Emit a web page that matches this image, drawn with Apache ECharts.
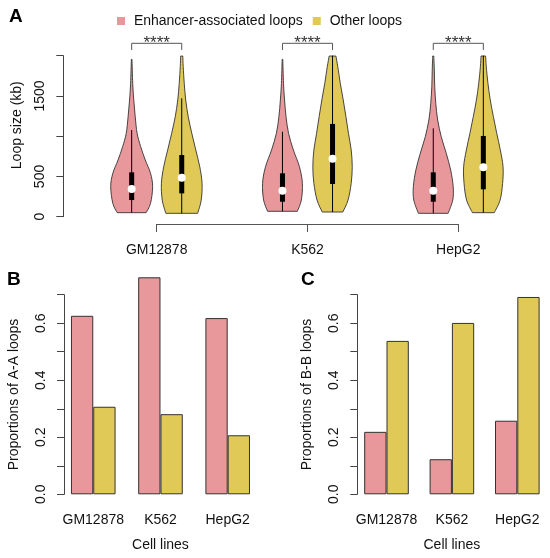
<!DOCTYPE html>
<html>
<head>
<meta charset="utf-8">
<script src="https://cdn.jsdelivr.net/npm/echarts@6/dist/echarts.min.js"></script>
<style>
  html, body { margin: 0; padding: 0; background: #fff; }
  #main { width: 550px; height: 558px; }
</style>
</head>
<body>
<div id="main"></div>
<script>
var cellLines = ['GM12878', 'K562', 'HepG2'];
var groupNames = ['Enhancer-associated loops', 'Other loops'];
var groupColors = ['#E8979A', '#E0C956'];

// violin outlines, one per cell line: [loop size (kb), relative density]
var enhancerViolins = [
    [[50, .69], [166, .90], [373, 1.0], [539, .90], [704, .65], [870, .43], [1036, .26], [1242, .17], [1450, .10], [1657, .05], [1955, .015]],
    [[67, .71], [207, .90], [415, .95], [621, .81], [829, .52], [1036, .29], [1242, .17], [1450, .10], [1657, .05], [1955, .015]],
    [[42, .71], [207, .93], [373, .95], [580, .83], [787, .62], [994, .38], [1201, .21], [1408, .12], [1615, .07], [1822, .05], [1996, .025]]
];
var otherViolins = [
    [[42, .76], [207, .93], [415, .97], [621, .86], [829, .67], [1036, .48], [1242, .31], [1450, .19], [1657, .12], [1864, .07], [1996, .05]],
    [[58, .49], [207, .74], [415, .89], [621, .94], [829, .89], [1036, .76], [1242, .64], [1450, .51], [1657, .37], [1864, .25], [1996, .16]],
    [[50, .52], [207, .80], [415, .92], [621, .94], [829, .81], [1036, .64], [1242, .48], [1450, .33], [1657, .22], [1864, .14], [1996, .11]]
];
// boxes: [whisker low, q1, median, q3, whisker high]
var enhancerBoxes = [[50, 207, 345, 551, 1077], [67, 186, 323, 539, 1056], [42, 186, 323, 551, 1098]];
var otherBoxes = [[42, 290, 485, 766, 1471], [58, 406, 720, 1152, 2000], [50, 340, 614, 1003, 2000]];
var sigLabels = ['****', '****', '****'];
var loopTickLabels = ['0', '500', '', '1500', ''];

// proportions of A-A and B-B loops
var aaEnhancer = [0.626, 0.761, 0.618];
var aaOther = [0.307, 0.281, 0.207];
var bbEnhancer = [0.219, 0.123, 0.258];
var bbOther = [0.538, 0.601, 0.692];

var FONT = '"Liberation Sans", Arial, sans-serif';

// catmull-rom through the points, as bezier segments (the first point is the current position)
function curveThrough(pts) {
    var d = '';
    for (var k = 0; k < pts.length - 1; k++) {
        var p0 = pts[k - 1] || pts[k], p1 = pts[k], p2 = pts[k + 1], p3 = pts[k + 2] || p2;
        var c1 = [p1[0] + (p2[0] - p0[0]) / 6, p1[1] + (p2[1] - p0[1]) / 6];
        var c2 = [p2[0] - (p3[0] - p1[0]) / 6, p2[1] - (p3[1] - p1[1]) / 6];
        d += ' C' + c1.join(' ') + ' ' + c2.join(' ') + ' ' + p2.join(' ');
    }
    return d;
}

function violinRenderer(violins, boxes, side, color) {
    return function (params, api) {
        var i = api.value(0);
        var band = api.size([1, 0])[0];
        var cx = api.coord([i, 0])[0] + side * band * 0.166;
        var hw = band * 0.139;
        var y = function (v) { return api.coord([i, v])[1]; };
        var pts = violins[i];
        var right = pts.map(function (p) { return [cx + p[1] * hw, y(p[0])]; });
        var left = pts.slice().reverse().map(function (p) { return [cx - p[1] * hw, y(p[0])]; });
        var d = 'M' + right[0].join(' ') + curveThrough(right) +
                ' L' + left[0].join(' ') + curveThrough(left) + ' Z';
        var b = boxes[i];
        return {
            type: 'group',
            children: [
                { type: 'path', shape: { pathData: d },
                  style: { fill: color, stroke: '#333', lineWidth: 0.9 } },
                { type: 'line', shape: { x1: cx, y1: y(b[0]), x2: cx, y2: y(b[4]) },
                  style: { stroke: '#000', lineWidth: 1 } },
                { type: 'rect', shape: { x: cx - 2.5, y: y(b[3]), width: 5, height: y(b[1]) - y(b[3]) },
                  style: { fill: '#000' } },
                { type: 'circle', shape: { cx: cx, cy: y(b[2]), r: 4 }, style: { fill: '#fff' } }
            ]
        };
    };
}

function sigRenderer(params, api) {
    var i = api.value(0);
    var band = api.size([1, 0])[0];
    var c = api.coord([i, 0])[0];
    var x1 = c - band * 0.166, x2 = c + band * 0.166;
    var yTop = api.coord([i, 2154])[1], yEnd = api.coord([i, 2071])[1];
    return {
        type: 'group',
        children: [
            { type: 'polyline', shape: { points: [[x1, yEnd], [x1, yTop], [x2, yTop], [x2, yEnd]] },
              style: { stroke: '#555', lineWidth: 1, fill: null } },
            { type: 'text', x: c, y: yTop + 0.5,
              style: { text: sigLabels[i], fill: '#333', font: '17px ' + FONT, align: 'center', verticalAlign: 'middle' } }
        ]
    };
}

var propAxis = function (gridIndex, offset, name) {
    return {
        type: 'value', gridIndex: gridIndex, min: 0, max: 0.7, interval: 0.1, offset: offset,
        axisLine: { show: true, lineStyle: { color: '#444' } },
        axisTick: { show: true, length: 7, lineStyle: { color: '#444' } },
        axisLabel: { rotate: 90, margin: 16, fontSize: 14, color: '#111', fontFamily: FONT,
            formatter: function (v) { return Math.round(v * 10) % 2 === 0 ? v.toFixed(1) : ''; } },
        splitLine: { show: false },
        name: name, nameLocation: 'middle', nameGap: 43,
        nameTextStyle: { fontSize: 14, color: '#111', fontFamily: FONT }
    };
};
var cellAxis = function (gridIndex) {
    return {
        type: 'category', gridIndex: gridIndex, data: cellLines,
        axisLine: { show: false }, axisTick: { show: false },
        axisLabel: { interval: 0, margin: 19, fontSize: 14, color: '#111', fontFamily: FONT },
        name: 'Cell lines', nameLocation: 'middle', nameGap: 44,
        nameTextStyle: { fontSize: 14, color: '#111', fontFamily: FONT }
    };
};
var barSeries = function (axisIndex, values, k) {
    return {
        type: 'bar', name: groupNames[k], xAxisIndex: axisIndex, yAxisIndex: axisIndex,
        data: values, barWidth: 22.3, barGap: '0%', clip: false,
        itemStyle: { color: groupColors[k], borderColor: '#333', borderWidth: 1 }
    };
};

var chart = echarts.init(document.getElementById('main'));
var idx = cellLines.map(function (c, i) { return [i]; });

chart.setOption({
    animation: false,
    textStyle: { fontFamily: FONT },
    legend: {
        data: groupNames, left: 112, top: 9, icon: 'rect', itemWidth: 8, itemHeight: 8, itemGap: 10,
        formatter: function (name) { return ' ' + name; },
        textStyle: { fontSize: 14, color: '#111', fontFamily: FONT }
    },
    graphic: [
        { type: 'text', left: 9, top: 7, style: { text: 'A', font: 'bold 19px ' + FONT, fill: '#000' } },
        { type: 'text', left: 7, top: 270, style: { text: 'B', font: 'bold 19px ' + FONT, fill: '#000' } },
        { type: 'text', left: 301, top: 270, style: { text: 'C', font: 'bold 19px ' + FONT, fill: '#000' } }
    ],
    grid: [
        { left: 81.3, width: 452.4, top: 55.7, height: 161 },
        { left: 156.7, width: 301.6, top: 200, height: 24 },
        { left: 59.65, width: 201.65, top: 294.7, height: 199.6 },
        { left: 353.8, width: 201, top: 294.7, height: 199.6 }
    ],
    xAxis: [
        { type: 'category', gridIndex: 0, data: cellLines, show: false },
        { type: 'category', gridIndex: 1, data: cellLines, boundaryGap: false,
          axisLine: { lineStyle: { color: '#555' } },
          axisTick: { length: 8, lineStyle: { color: '#555' } },
          axisLabel: { interval: 0, margin: 19, fontSize: 14, color: '#111', fontFamily: FONT },
          splitLine: { show: false } },
        cellAxis(2),
        cellAxis(3)
    ],
    yAxis: [
        { type: 'value', gridIndex: 0, min: 0, max: 2000, interval: 500, offset: 18,
          axisLine: { show: true, lineStyle: { color: '#444' } },
          axisTick: { show: true, length: 7, lineStyle: { color: '#444' } },
          axisLabel: { rotate: 90, margin: 16, fontSize: 14, color: '#111', fontFamily: FONT,
              formatter: function (v) { return loopTickLabels[Math.round(v / 500)]; } },
          splitLine: { show: false },
          name: 'Loop size (kb)', nameLocation: 'middle', nameGap: 39,
          nameTextStyle: { fontSize: 14, color: '#111', fontFamily: FONT, padding: [0, 0, 0, 22] } },
        { type: 'value', gridIndex: 1, show: false },
        propAxis(2, -4.35, 'Proportions of A-A loops'),
        propAxis(3, -3.5, 'Proportions of B-B loops')
    ],
    series: [
        { type: 'custom', name: groupNames[0], xAxisIndex: 0, yAxisIndex: 0, data: idx,
          itemStyle: { color: groupColors[0] },
          renderItem: violinRenderer(enhancerViolins, enhancerBoxes, -1, groupColors[0]) },
        { type: 'custom', name: groupNames[1], xAxisIndex: 0, yAxisIndex: 0, data: idx,
          itemStyle: { color: groupColors[1] },
          renderItem: violinRenderer(otherViolins, otherBoxes, 1, groupColors[1]) },
        { type: 'custom', name: 'significance', xAxisIndex: 0, yAxisIndex: 0, data: idx,
          renderItem: sigRenderer },
        barSeries(2, aaEnhancer, 0),
        barSeries(2, aaOther, 1),
        barSeries(3, bbEnhancer, 0),
        barSeries(3, bbOther, 1)
    ]
});
</script>
</body>
</html>
